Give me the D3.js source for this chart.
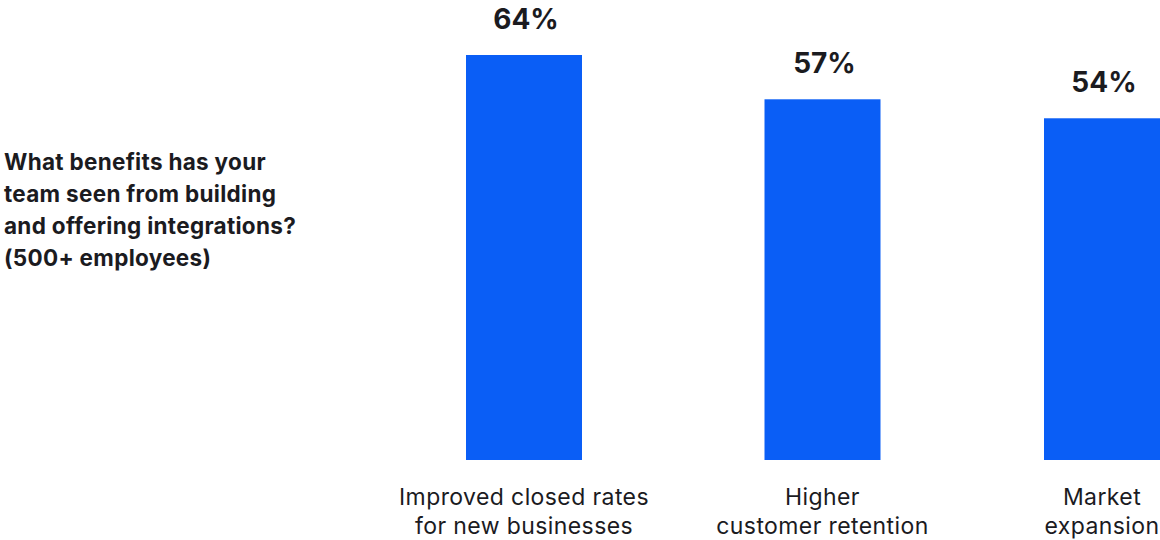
<!DOCTYPE html>
<html>
<head>
<meta charset="utf-8">
<script src="https://cdn.jsdelivr.net/npm/d3@7"></script>
<style>
  body { margin: 0; background: #fff; }
  text { font-family: Inter, "Noto Sans", sans-serif; fill: #1b1b1f; }
</style>
</head>
<body>
<div id="chart"></div>
<script>
const categories = ["Improved closed rates|for new businesses", "Higher|customer retention", "Market|expansion"];
const values = [64, 57, 54];
const titleLines = ["What benefits has your", "team seen from building", "and offering integrations?", "(500+ employees)"];

const width = 1160, height = 540;
const svg = d3.select("#chart")
    .append("svg")
    .attr("width", width)
    .attr("height", height);

// bar centres are not evenly spaced in the original
const x = d3.scaleOrdinal()
    .domain(categories)
    .range([524, 822.5, 1102]);
const barW = 116;

const y = d3.scaleLinear()
    .domain([0, 64])
    .range([460, 55]);

svg.append("g")
    .selectAll("rect")
    .data(values)
    .join("rect")
    .attr("x", (d, i) => x(categories[i]) - barW / 2)
    .attr("y", d => y(d))
    .attr("width", barW)
    .attr("height", d => y(0) - y(d))
    .attr("fill", "#0a5ef6");

svg.append("g")
    .selectAll("text")
    .data(values)
    .join("text")
    .attr("x", (d, i) => x(categories[i]) + 2)
    .attr("y", d => y(d) - 26)
    .attr("text-anchor", "middle")
    .attr("font-size", 28)
    .attr("font-weight", 700)
    .text(d => d + "%");

const cat = svg.append("g")
    .selectAll("text")
    .data(categories)
    .join("text")
    .attr("text-anchor", "middle")
    .attr("font-size", 23)
    .attr("letter-spacing", 0.4);
cat.selectAll("tspan")
    .data(d => d.split("|").map(t => ({t, c: d})))
    .join("tspan")
    .attr("x", d => x(d.c))
    .attr("y", (d, i) => 505 + i * 29)
    .text(d => d.t);

svg.append("text")
    .attr("font-size", 22.5)
    .attr("font-weight", 700)
    .attr("letter-spacing", 0.3)
    .selectAll("tspan")
    .data(titleLines)
    .join("tspan")
    .attr("x", 4)
    .attr("y", (d, i) => 170 + i * 32)
    .text(d => d);
</script>
</body>
</html>
